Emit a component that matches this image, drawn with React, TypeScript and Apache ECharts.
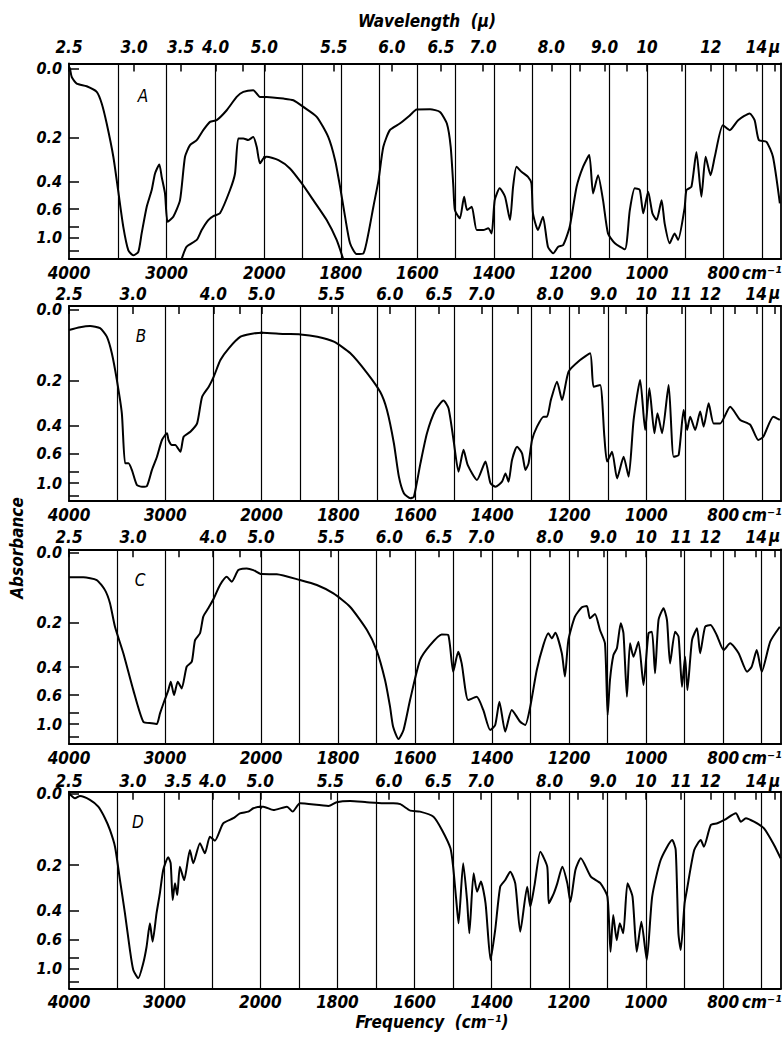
import React, { useEffect, useRef } from "react";
import * as echarts from "echarts";

// Spectra: [wavenumber (cm^-1), transmittance (%)]
const spectrumA: [number, number][] = [
  [4000, 101], [3990, 100], [3972, 95.5], [3921, 92], [3819, 90.6], [3716, 87.6], [3665, 81.4], [3614, 70.7],
  [3546, 53], [3495, 34.4], [3444, 15.7], [3393, 3.3], [3342, 0.5], [3290, 2.4], [3256, 12.2], [3204, 26.4],
  [3153, 35.3], [3119, 44.1], [3075, 48.9], [3051, 42.3], [3017, 33.5], [2990, 18.4], [2932, 21.1], [2863, 29.9],
  [2812, 53], [2761, 59.2], [2692, 61.9], [2625, 67.2], [2556, 71.6], [2488, 72.5], [2385, 77.8], [2283, 84.9],
  [2215, 87.6], [2113, 88.5], [2044, 84.9], [1994, 84.9], [1950, 84], [1924, 83.1], [1898, 79.6], [1863, 74.3],
  [1833, 63.6], [1815, 51.2], [1802, 37], [1789, 21.1], [1776, 6.9], [1759, 1.2], [1741, 1.6], [1728, 12.2],
  [1715, 26.4], [1702, 40], [1689, 58.3], [1672, 67.2], [1646, 70.7], [1619, 75.2], [1602, 78.2], [1567, 78.3],
  [1541, 76.9], [1523, 70.7], [1513, 58.3], [1506, 37], [1502, 24.6], [1489, 20.2], [1478, 31.7], [1470, 24.6],
  [1458, 26.4], [1445, 14], [1428, 14], [1415, 14.9], [1406, 12.2], [1398, 29.9], [1385, 36.2], [1371, 31.7],
  [1358, 19.3], [1350, 37], [1341, 47.7], [1328, 45], [1311, 42.3], [1302, 38.8], [1298, 22.9], [1285, 14],
  [1272, 21.1], [1259, 5.1], [1245, 1.6], [1232, 5.1], [1219, 6], [1202, 15.7], [1184, 37], [1167, 47.7],
  [1151, 53.9], [1141, 33.5], [1128, 43.2], [1115, 29.9], [1102, 12.2], [1084, 6.9], [1058, 3.7], [1045, 24.6],
  [1032, 36.2], [1019, 35.3], [1010, 22.9], [997, 34.4], [986, 22.9], [975, 19.3], [962, 29.9], [954, 17.5],
  [941, 6.9], [928, 12.2], [919, 8.7], [902, 25.5], [897, 35.3], [884, 37], [871, 55.6], [858, 31.7],
  [847, 53], [834, 43.2], [823, 53], [802, 69.8], [784, 67.2], [762, 72.5], [732, 76.1], [719, 72.5],
  [708, 61.9], [688, 61], [671, 53], [653, 28.2],
];

const spectrumAThick: [number, number][] = [
  [2846, -1.4], [2795, 5.1], [2692, 8.7], [2641, 14], [2574, 19.3], [2522, 21.4], [2454, 22.9], [2351, 35.3],
  [2300, 44.1], [2266, 62.8], [2215, 62.8], [2164, 61.9], [2113, 63.6], [2078, 58.3], [2044, 49.5], [1994, 53],
  [1963, 51.2], [1933, 46.8], [1902, 38.8], [1872, 29.9], [1837, 19.3], [1811, 8.7], [1794, -1.4],
];

const spectrumB: [number, number][] = [
  [4000, 89.3], [3885, 90.7], [3781, 91.3], [3677, 90.2], [3607, 85.8], [3555, 77.2], [3503, 63.4], [3451, 46.1],
  [3417, 20.2], [3382, 20.2], [3347, 16.8], [3295, 9], [3242, 8.1], [3190, 8.5], [3138, 16.8], [3086, 23.6],
  [3034, 32.3], [2982, 35.8], [2966, 32.3], [2930, 29.7], [2896, 29.7], [2843, 26.2], [2809, 34], [2739, 36.6],
  [2669, 40.9], [2617, 54.7], [2548, 59.9], [2496, 65.1], [2427, 73.7], [2340, 79.8], [2218, 85.8], [2114, 87.2],
  [1998, 87.9], [1942, 87.2], [1899, 87], [1855, 85.8], [1812, 83.2], [1769, 77.2], [1725, 66.8], [1691, 57],
  [1674, 47.8], [1656, 30.6], [1643, 13.3], [1630, 4.7], [1613, 2.1], [1604, 2.9], [1587, 20.2], [1570, 35.8],
  [1548, 47.8], [1527, 52.7], [1514, 48.7], [1501, 32.3], [1488, 15.9], [1475, 27.2], [1464, 19.3], [1440, 11.6],
  [1418, 21.1], [1405, 9.9], [1392, 8.1], [1375, 10.7], [1366, 15], [1358, 10.7], [1349, 21.9], [1336, 28.8],
  [1323, 25.4], [1314, 16.8], [1306, 20.2], [1297, 32.3], [1284, 39.2], [1267, 44.4], [1258, 44.4], [1248, 53],
  [1232, 62.5], [1219, 53], [1202, 67.7], [1172, 73.7], [1146, 77.2], [1137, 59.9], [1120, 60.8], [1109, 34],
  [1102, 21.1], [1089, 26.2], [1076, 12.4], [1059, 23.6], [1046, 13.3], [1033, 42.7], [1016, 63.4], [1003, 37.5],
  [992, 59.1], [979, 35.8], [971, 46.1], [959, 35.8], [942, 60.8], [929, 23.6], [916, 24.5], [903, 47.8],
  [894, 37.5], [886, 44.4], [873, 37.5], [860, 47.1], [851, 39.2], [838, 51.3], [825, 40.9], [808, 40.9],
  [782, 49.5], [756, 42.7], [730, 40.2], [709, 32.3], [696, 34], [670, 44.4], [653, 42.7],
];

const spectrumC: [number, number][] = [
  [4000, 86.9], [3851, 86.9], [3711, 85.5], [3625, 80.2], [3573, 73.3], [3521, 61], [3434, 47.1], [3330, 27.8],
  [3226, 11.2], [3138, 10.4], [3086, 10], [3052, 15.6], [3010, 21.7], [2965, 27.8], [2940, 32.2], [2906, 25.2],
  [2867, 32.2], [2826, 28.7], [2774, 40.1], [2721, 42.7], [2687, 54], [2635, 57.6], [2601, 66.3], [2549, 70.7],
  [2496, 75.4], [2427, 82.9], [2357, 87.2], [2305, 84.6], [2236, 90.7], [2149, 91.6], [2080, 90.7], [1998, 88.6],
  [1959, 88.5], [1899, 85.5], [1855, 82.9], [1812, 78.5], [1769, 71.5], [1725, 59.3], [1700, 48.8], [1678, 33.1],
  [1665, 19.1], [1657, 8.6], [1643, 2.2], [1630, 6.9], [1613, 22.6], [1587, 43.6], [1561, 51.4], [1531, 57],
  [1514, 56.7], [1501, 37.4], [1488, 47.9], [1479, 41.8], [1462, 22.6], [1440, 24.3], [1423, 17.4], [1405, 6.9],
  [1392, 9.5], [1381, 21.7], [1366, 6], [1349, 17.4], [1327, 11.2], [1314, 9.5], [1301, 19.1], [1284, 38.3],
  [1267, 51.4], [1254, 57.6], [1245, 54.9], [1236, 57.9], [1219, 47.1], [1211, 34.9], [1202, 54], [1185, 66.3],
  [1167, 71.2], [1154, 71.9], [1146, 65.4], [1133, 67.7], [1120, 59.3], [1107, 52.3], [1100, 14.7], [1094, 33.1],
  [1085, 46.2], [1076, 49.7], [1066, 62.8], [1059, 57.6], [1050, 24.3], [1042, 52.3], [1033, 45.3], [1020, 53.2],
  [1007, 30.5], [994, 57.6], [985, 58.4], [977, 36.6], [968, 64.5], [955, 70.7], [946, 64.5], [938, 41.8],
  [925, 58.4], [916, 55.8], [907, 29.6], [899, 45.3], [893, 27.8], [881, 54], [868, 60.2], [860, 47.1],
  [847, 61], [833, 61.9], [817, 56.7], [799, 48.8], [782, 52.3], [760, 47.1], [738, 37.4], [726, 40.1],
  [713, 48.8], [700, 37.4], [678, 53.2], [653, 61],
];

const spectrumD: [number, number][] = [
  [4000, 100], [3937, 97.4], [3885, 98.6], [3781, 96.6], [3694, 93.1], [3624, 87.2], [3572, 81.2], [3519, 72.6],
  [3467, 55.5], [3415, 38.4], [3363, 19.6], [3328, 9.4], [3276, 5.1], [3224, 12.8], [3189, 21.3], [3154, 33.3],
  [3126, 23.9], [3085, 38.4], [3050, 48.7], [3015, 60.7], [2963, 67.2], [2937, 64.1], [2916, 45.3], [2892, 53.8],
  [2868, 47.8], [2841, 62.3], [2796, 55.5], [2736, 70.9], [2701, 64.1], [2631, 74.4], [2579, 69.2], [2527, 77.7],
  [2475, 75.7], [2388, 84.6], [2282, 87.2], [2213, 89.7], [2125, 90.6], [2073, 92.3], [1992, 93.1], [1966, 91.4],
  [1931, 93.1], [1916, 90.6], [1897, 94.9], [1823, 93.5], [1802, 95.4], [1767, 96], [1724, 95.4], [1681, 94.9],
  [1655, 94.9], [1637, 94.4], [1611, 91.1], [1586, 90.6], [1551, 88], [1529, 81.2], [1507, 71.8], [1500, 62.3],
  [1492, 45.3], [1486, 33.3], [1474, 64.1], [1464, 45.3], [1458, 28.2], [1447, 59], [1438, 49.5], [1428, 54.7],
  [1416, 43.6], [1403, 14.5], [1391, 29.9], [1378, 52.1], [1365, 55.5], [1352, 59.8], [1339, 53.8], [1326, 29],
  [1308, 52.1], [1300, 41.8], [1289, 52.9], [1274, 70], [1256, 62.3], [1252, 43.6], [1239, 48.7], [1230, 53.8],
  [1217, 62.3], [1204, 53.8], [1196, 44.4], [1183, 60.7], [1169, 66.7], [1143, 57.2], [1118, 53.8], [1100, 47],
  [1092, 18.7], [1085, 37.6], [1076, 24.7], [1068, 33.3], [1059, 28.2], [1048, 53.8], [1035, 47], [1024, 18.7],
  [1012, 34.1], [998, 14.5], [984, 47], [962, 65.8], [932, 76], [923, 70.9], [916, 28.2], [910, 19.6],
  [900, 43.6], [894, 50.4], [875, 70.9], [858, 76], [850, 72.6], [832, 83.7], [815, 84.6], [797, 86.3],
  [767, 89.7], [754, 85.4], [741, 87.2], [720, 85.4], [694, 82], [668, 73.5], [651, 66.7],
];

// Axis values
const freqLabelsLeft = [4000, 3000, 2000];
const freqLabelsRight = [1800, 1600, 1400, 1200, 1000, 800];
const gridLinesLeft = [3500, 3000, 2500];
const gridLinesRight = [2000, 1900, 1800, 1700, 1600, 1500, 1400, 1300, 1200, 1100, 1000, 900, 800, 700];
const wavelengthTicks = [2.5, 3, 3.5, 4, 4.5, 5, 5.5, 6, 6.5, 7, 7.5, 8, 8.5, 9, 9.5, 10, 11, 12, 13, 14, 15];
const wavelengthLabelsA = [2.5, 3, 3.5, 4, 5, 5.5, 6, 6.5, 7, 8, 9, 10, 12, 14];
const wavelengthLabelsB = [2.5, 3, 4, 5, 5.5, 6, 6.5, 7, 8, 9, 10, 11, 12, 14];
const wavelengthLabelsC = [2.5, 3, 4, 5, 5.5, 6, 6.5, 7, 8, 9, 10, 11, 12, 14];
const wavelengthLabelsD = [2.5, 3, 3.5, 4, 5, 5.5, 6, 6.5, 7, 8, 9, 10, 11, 12, 14];
const absorbanceTicks = [0, 0.2, 0.4, 0.6, 0.8, 1.0, 1.5];
const absorbanceLabels = [0, 0.2, 0.4, 0.6, 1.0];
const panelNames = ["A", "B", "C", "D"];
const FREQ_SPLIT = 2000;
const FREQ_MAX = 4000;
const FREQ_MIN = 650;

// Layout (pixels)
const LEFT = 69;
const RIGHT_EDGE = 781;
const layout = [
  { top: 63.5, height: 195.5, split: 264.3, tMin: -1.45, tMax: 102.7, topMargin: 8, letter: [143, 96] },
  { top: 306, height: 195, split: 261.5, tMin: 0.7, tMax: 101.7, topMargin: 4, letter: [141, 336] },
  { top: 549.3, height: 194.7, split: 261, tMin: -0.45, tMax: 101.6, topMargin: 4, letter: [140, 580] },
  { top: 791.7, height: 196.6, split: 260.3, tMin: 0, tMax: 100.8, topMargin: 2, letter: [138, 822] },
];

const FONT = "'DejaVu Sans Condensed', 'Liberation Sans Narrow', 'DejaVu Sans', sans-serif";
const labelFont = { fontFamily: FONT, fontStyle: "italic" as const, fontWeight: "bold" as const, color: "#000" };
const frameLine = { show: true, onZero: false, lineStyle: { color: "#000", width: 1.8 } };

const toT = (a: number) => 100 * Math.pow(10, -a);
const fmtAbs = (v: number) => (-Math.log10(v / 100) + 0).toFixed(1);
const fmtWl = (v: number) => {
  const l = 10000 / v;
  return l >= 9.95 ? String(Math.round(l)) : (Math.round(l * 10) / 10).toFixed(1);
};

function buildOption() {
  const spectra = [spectrumA, spectrumB, spectrumC, spectrumD];
  const wlLabels = [wavelengthLabelsA, wavelengthLabelsB, wavelengthLabelsC, wavelengthLabelsD];
  const grids: any[] = [];
  const xAxes: any[] = [];
  const yAxes: any[] = [];
  const series: any[] = [];
  const graphics: any[] = [];

  layout.forEach((p, i) => {
    grids.push({ left: LEFT, top: p.top, width: p.split - LEFT, height: p.height, containLabel: false, outerBoundsMode: "none" });
    grids.push({ left: p.split, top: p.top, width: RIGHT_EDGE - p.split, height: p.height, containLabel: false, outerBoundsMode: "none" });
    const leftWl = wavelengthTicks.filter((l) => 10000 / l >= FREQ_SPLIT).map((l) => 10000 / l);
    const rightWl = wavelengthTicks.filter((l) => 10000 / l < FREQ_SPLIT && 10000 / l >= FREQ_MIN).map((l) => 10000 / l);
    const leftWlLab = wlLabels[i].filter((l) => 10000 / l >= FREQ_SPLIT).map((l) => 10000 / l);
    const rightWlLab = wlLabels[i].filter((l) => 10000 / l < FREQ_SPLIT).map((l) => 10000 / l);

    const bottomAxis = (gridIndex: number, min: number, max: number, labels: number[]) => ({
      type: "value", gridIndex, position: "bottom", inverse: true, min, max,
      axisLine: frameLine, axisTick: { show: false }, splitLine: { show: false },
      axisLabel: {
        customValues: labels, showMinLabel: true, showMaxLabel: true, margin: 5,
        fontSize: 17, ...labelFont, formatter: (v: number) => String(Math.round(v)),
      },
    });
    const topAxis = (gridIndex: number, min: number, max: number, ticks: number[], labels: number[]) => ({
      type: "value", gridIndex, position: "top", inverse: true, min, max,
      axisLine: frameLine, splitLine: { show: false },
      axisTick: { show: true, inside: true, length: 8, customValues: ticks, lineStyle: { color: "#000", width: 1.5 } },
      axisLabel: {
        customValues: labels, showMinLabel: true, showMaxLabel: true, margin: p.topMargin,
        fontSize: 17, ...labelFont, formatter: fmtWl,
      },
    });
    xAxes.push(bottomAxis(2 * i, FREQ_SPLIT, FREQ_MAX, freqLabelsLeft));
    xAxes.push(topAxis(2 * i, FREQ_SPLIT, FREQ_MAX, leftWl, leftWlLab));
    xAxes.push(bottomAxis(2 * i + 1, FREQ_MIN, FREQ_SPLIT, freqLabelsRight));
    xAxes.push(topAxis(2 * i + 1, FREQ_MIN, FREQ_SPLIT, rightWl, rightWlLab));

    yAxes.push({
      type: "value", gridIndex: 2 * i, position: "left", min: p.tMin, max: p.tMax,
      axisLine: frameLine, splitLine: { show: false },
      axisTick: { show: true, inside: true, length: 10, customValues: absorbanceTicks.map(toT), lineStyle: { color: "#000", width: 1.5 } },
      axisLabel: { customValues: absorbanceLabels.map(toT), margin: 7, fontSize: 16, ...labelFont, formatter: fmtAbs },
    });
    yAxes.push({
      type: "value", gridIndex: 2 * i + 1, position: "right", min: p.tMin, max: p.tMax,
      axisLine: frameLine, axisTick: { show: false }, axisLabel: { show: false }, splitLine: { show: false },
    });

    const lineSeries = (data: [number, number][], side: number, lines: number[] | null) => ({
      type: "line", xAxisIndex: 4 * i + side * 2, yAxisIndex: 2 * i + side, data,
      showSymbol: false, symbol: "none", clip: true, silent: true, smooth: 0.2,
      lineStyle: { color: "#000", width: 2 }, emphasis: { disabled: true },
      markLine: lines
        ? {
            silent: true, symbol: ["none", "none"], label: { show: false },
            lineStyle: { color: "#000", width: 1.2, type: "solid" }, emphasis: { disabled: true },
            data: lines.map((v) => ({ xAxis: v })),
          }
        : undefined,
    });
    series.push(lineSeries(spectra[i], 0, gridLinesLeft));
    series.push(lineSeries(spectra[i], 1, gridLinesRight));
    if (i === 0) {
      series.push(lineSeries(spectrumAThick, 0, null));
      series.push(lineSeries(spectrumAThick, 1, null));
    }

    const bottom = p.top + p.height;
    graphics.push({
      type: "text", x: 742, y: bottom + 13.5,
      style: { text: "cm⁻¹", fill: "#000", fontSize: 17, fontFamily: FONT, fontStyle: "italic", fontWeight: "bold", align: "left", verticalAlign: "middle" },
    });
    graphics.push({
      type: "text", x: 769, y: p.top - p.topMargin - 9,
      style: { text: "µ", fill: "#000", fontSize: 17, fontFamily: FONT, fontStyle: "italic", fontWeight: "bold", align: "left", verticalAlign: "middle" },
    });
    graphics.push({
      type: "text", x: p.letter[0], y: p.letter[1],
      style: { text: panelNames[i], fill: "#000", fontSize: 17, fontFamily: FONT, fontStyle: "italic", align: "center", verticalAlign: "middle" },
    });
  });

  graphics.push({
    type: "text", x: 427, y: 21,
    style: { text: "Wavelength  (µ)", fill: "#000", fontSize: 17, fontFamily: FONT, fontStyle: "italic", fontWeight: "bold", align: "center", verticalAlign: "middle" },
  });
  graphics.push({
    type: "text", x: 432, y: 1022,
    style: { text: "Frequency  (cm⁻¹)", fill: "#000", fontSize: 17, fontFamily: FONT, fontStyle: "italic", fontWeight: "bold", align: "center", verticalAlign: "middle" },
  });
  graphics.push({
    type: "text", x: 17, y: 548, rotation: Math.PI / 2,
    style: { text: "Absorbance", fill: "#000", fontSize: 17, fontFamily: FONT, fontStyle: "italic", fontWeight: "bold", align: "center", verticalAlign: "middle" },
  });

  return {
    animation: false,
    backgroundColor: "#fff",
    grid: grids,
    xAxis: xAxes,
    yAxis: yAxes,
    series,
    graphic: graphics,
  };
}

export default function App() {
  const ref = useRef<HTMLDivElement>(null);
  useEffect(() => {
    if (!ref.current) return;
    const chart = echarts.init(ref.current, undefined, { renderer: "svg" });
    chart.setOption(buildOption() as any);
    return () => chart.dispose();
  }, []);
  return <div ref={ref} style={{ position: "absolute", left: 0, top: 0, width: 783, height: 1037 }} />;
}
